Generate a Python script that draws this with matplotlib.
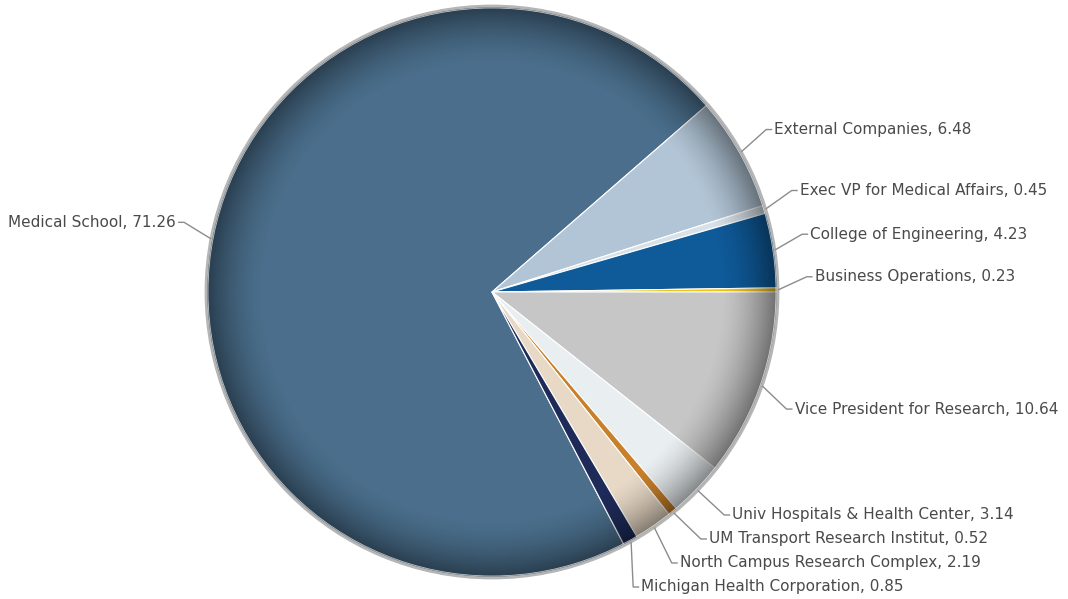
import numpy as np
import matplotlib
matplotlib.use('Agg')
from matplotlib import pyplot as plt
from matplotlib.patches import Circle

labels = ['Medical School', 'External Companies', 'Exec VP for Medical Affairs',
          'College of Engineering', 'Business Operations', 'Vice President for Research',
          'Univ Hospitals & Health Center', 'UM Transport Research Institut',
          'North Campus Research Complex', 'Michigan Health Corporation']
values = [71.26, 6.48, 0.45, 4.23, 0.23, 10.64, 3.14, 0.52, 2.19, 0.85]
colors = ['#4a6e8b', '#b2c5d6', '#d8e1e8', '#0f5a99', '#f2c416', '#c6c6c6',
          '#e9eef0', '#c8802a', '#e8d9c6', '#1e2b58']

W, H = 1068, 599
cx, cy, r = 492, 292, 286          # pixel layout (screen y down)

fig = plt.figure(figsize=(W / 100, H / 100), dpi=100)
ax = fig.add_axes([0, 0, 1, 1])

total = sum(values)
# business operations slice ends on the horizontal
tail = sum(values[5:])
start = -360 * tail / total

wedges, _ = ax.pie(values, colors=colors, startangle=start, counterclock=False,
                   center=(cx, H - cy), radius=r,
                   wedgeprops=dict(edgecolor='white', linewidth=0.8))

# rim shading
n = 600
g = np.linspace(-1, 1, n)
xx, yy = np.meshgrid(g, g)
rho = np.sqrt(xx ** 2 + yy ** 2)
alpha = np.clip((rho - 0.80) / 0.20, 0, 1) ** 1.6 * 0.45
shade = np.zeros((n, n, 4))
shade[..., 3] = alpha
im = ax.imshow(shade, extent=(cx - r, cx + r, H - cy - r, H - cy + r),
               zorder=3, interpolation='bilinear')
clip = Circle((cx, H - cy), r, transform=ax.transData)
im.set_clip_path(clip)
ax.add_patch(Circle((cx, H - cy), r, fill=False, ec='#b5b5b5', lw=2.0, zorder=4))
ax.add_patch(Circle((cx, H - cy), r - 2, fill=False, ec='white', lw=0.6, alpha=0.7, zorder=4))

# label positions
angles = []
acc = start
for v in values:
    a0 = acc
    acc -= 360 * v / total
    angles.append((a0 + acc) / 2)

info = []
for i, a in enumerate(angles):
    s = np.sin(np.radians(a))
    push = 13 if s > 0 else 17
    ly = cy - (305 * s + push * np.sign(s))
    side = 1 if np.cos(np.radians(a)) >= 0 else -1
    info.append([i, a, ly, side])

gap = 24
ymax = 587
for side in (1, -1):
    grp = sorted([p for p in info if p[3] == side], key=lambda p: p[2])
    for k in range(1, len(grp)):
        grp[k][2] = max(grp[k][2], grp[k - 1][2] + gap)
    if grp:
        grp[-1][2] = min(grp[-1][2], ymax)
        for k in range(len(grp) - 2, -1, -1):
            grp[k][2] = min(grp[k][2], grp[k + 1][2] - gap)

ra, rb = 315, 330
for i, a, ly, side in info:
    ex = cx + r * np.cos(np.radians(a))
    ey = cy - r * np.sin(np.radians(a))
    dy = ly - cy
    bx = cx + side * ra * np.sqrt(max(1 - (dy / rb) ** 2, 0))
    px = [ex, bx, bx + side * 6]
    py = [H - ey, H - ly, H - ly]
    ax.plot(px, py, color='#8c8c8c', lw=1, zorder=5, solid_capstyle='butt')
    ax.text(bx + side * 8, H - ly, f'{labels[i]}, {values[i]:.2f}',
            ha='left' if side > 0 else 'right', va='center',
            fontsize=11, color='#4a4a4a', zorder=6)

ax.set_xlim(0, W)
ax.set_ylim(0, H)
ax.set_aspect('equal')
ax.axis('off')

plt.savefig('out.png', dpi=100)
